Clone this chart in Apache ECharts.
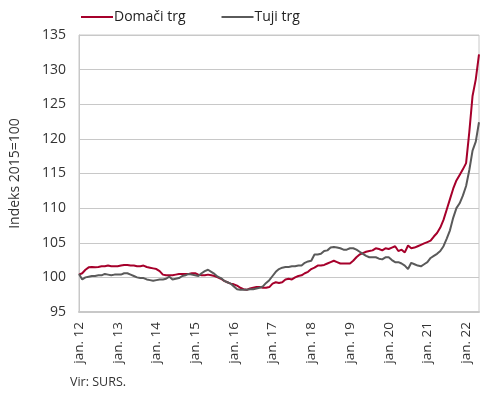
<!DOCTYPE html>
<html>
<head>
<meta charset="utf-8">
<script src="https://cdn.jsdelivr.net/npm/echarts@6/dist/echarts.min.js"></script>
<style>
  html, body { margin: 0; padding: 0; background: #fff; }
  #main { width: 490px; height: 396px; }
</style>
</head>
<body>
<div id="main"></div>
<script>
// monthly index, jan 2012 .. may 2022 (2015 = 100)
const years = [12, 13, 14, 15, 16, 17, 18, 19, 20, 21, 22];
const monthNames = ['jan.', 'feb.', 'mar.', 'apr.', 'maj', 'jun.', 'jul.', 'avg.', 'sep.', 'okt.', 'nov.', 'dec.'];

const domaci = [
  100.4, 100.6, 101.1, 101.45, 101.5, 101.45, 101.5, 101.6, 101.6, 101.7, 101.6, 101.6,
  101.6, 101.7, 101.8, 101.8, 101.7, 101.7, 101.6, 101.6, 101.7, 101.5, 101.4, 101.3,
  101.2, 100.9, 100.4, 100.3, 100.3, 100.3, 100.4, 100.5, 100.5, 100.5, 100.5, 100.6,
  100.6, 100.4, 100.3, 100.3, 100.4, 100.3, 100.2, 100.0, 99.8, 99.5, 99.3, 99.1,
  99.0, 98.8, 98.5, 98.3, 98.2, 98.4, 98.5, 98.6, 98.6, 98.5, 98.5, 98.6,
  99.1, 99.3, 99.2, 99.3, 99.7, 99.8, 99.7, 100.0, 100.2, 100.3, 100.6, 100.8,
  101.2, 101.4, 101.7, 101.7, 101.8, 102.0, 102.2, 102.4, 102.2, 102.0, 102.0, 102.0,
  102.0, 102.4, 102.9, 103.3, 103.5, 103.7, 103.8, 103.9, 104.2, 104.1, 103.9, 104.2,
  104.1, 104.3, 104.5, 103.8, 104.0, 103.6, 104.6, 104.2, 104.3, 104.5, 104.7, 104.9,
  105.1, 105.3, 105.9, 106.4, 107.2, 108.3, 109.8, 111.3, 112.8, 114.0, 114.8, 115.6,
  116.5, 121.0, 126.2, 128.6, 132.2
];

const tuji = [
  100.5, 99.7, 100.0, 100.1, 100.2, 100.2, 100.3, 100.3, 100.5, 100.4, 100.3, 100.4,
  100.4, 100.4, 100.6, 100.6, 100.4, 100.2, 100.0, 99.9, 99.9, 99.7, 99.6, 99.5,
  99.6, 99.7, 99.7, 99.8, 100.1, 99.7, 99.8, 99.9, 100.2, 100.3, 100.5, 100.4,
  100.3, 100.2, 100.6, 100.9, 101.1, 100.8, 100.5, 100.1, 99.9, 99.5, 99.3, 99.1,
  98.7, 98.3, 98.2, 98.2, 98.2, 98.3, 98.3, 98.4, 98.5, 98.7, 99.2, 99.6,
  100.2, 100.8, 101.2, 101.4, 101.5, 101.5, 101.6, 101.6, 101.7, 101.7, 102.1, 102.3,
  102.4, 103.3, 103.3, 103.4, 103.8, 103.9, 104.3, 104.4, 104.3, 104.2, 104.0, 104.0,
  104.2, 104.2, 104.0, 103.7, 103.4, 103.1, 102.9, 102.9, 102.9, 102.7, 102.6, 102.9,
  102.9, 102.5, 102.2, 102.2, 102.0, 101.7, 101.2, 102.1, 101.9, 101.7, 101.6, 101.9,
  102.2, 102.8, 103.1, 103.4, 103.8, 104.5, 105.6, 106.8, 108.6, 110.0, 110.7, 111.8,
  113.2, 115.5, 118.3, 119.6, 122.4
];

const categories = [];
years.forEach(y => monthNames.forEach(m => categories.push(m + ' ' + y)));
categories.length = domaci.length;

const font = 'Open Sans';
const chart = echarts.init(document.getElementById('main'), null, { renderer: 'canvas' });

chart.setOption({
  backgroundColor: '#fff',
  textStyle: { fontFamily: font },
  animation: false,
  legend: {
    top: 5,
    left: 76,
    icon: 'rect',
    itemWidth: 32,
    itemHeight: 2,
    itemGap: 36,
    textStyle: { fontSize: 14, color: '#222', padding: [0, 0, 0, -4] },
    data: ['Domači trg', 'Tuji trg']
  },
  grid: {
    left: 73, right: 11, top: 35, bottom: 84,
    show: true, borderColor: '#c8c8c8', borderWidth: 1
  },
  xAxis: {
    type: 'category',
    data: categories,
    boundaryGap: false,
    axisLine: { lineStyle: { color: '#c8c8c8', width: 2 } },
    axisTick: { show: false },
    axisLabel: {
      rotate: 90,
      interval: (i) => i % 12 === 0,
      color: '#333',
      fontSize: 13.5,
      margin: 10
    },
    splitLine: { show: false }
  },
  yAxis: {
    type: 'value',
    min: 95, max: 135, interval: 5,
    name: 'Indeks 2015=100',
    nameLocation: 'middle',
    nameRotate: 90,
    nameGap: 57,
    nameTextStyle: { fontSize: 14, color: '#333' },
    axisLine: { show: true, lineStyle: { color: '#c8c8c8', width: 1 } },
    axisTick: { show: false },
    axisLabel: { color: '#333', fontSize: 14, margin: 13 },
    splitLine: { lineStyle: { color: '#c8c8c8', width: 1 } }
  },
  series: [
    {
      name: 'Domači trg', type: 'line', data: domaci,
      symbol: 'none', color: '#a6002b',
      lineStyle: { width: 2 }
    },
    {
      name: 'Tuji trg', type: 'line', data: tuji,
      symbol: 'none', color: '#5a5a5a',
      lineStyle: { width: 2 }
    }
  ],
  graphic: [{
    type: 'text', left: 70, top: 376,
    style: { text: 'Vir: SURS.', fontSize: 12.5, fontFamily: font, fill: '#333' }
  }]
});
</script>
</body>
</html>
